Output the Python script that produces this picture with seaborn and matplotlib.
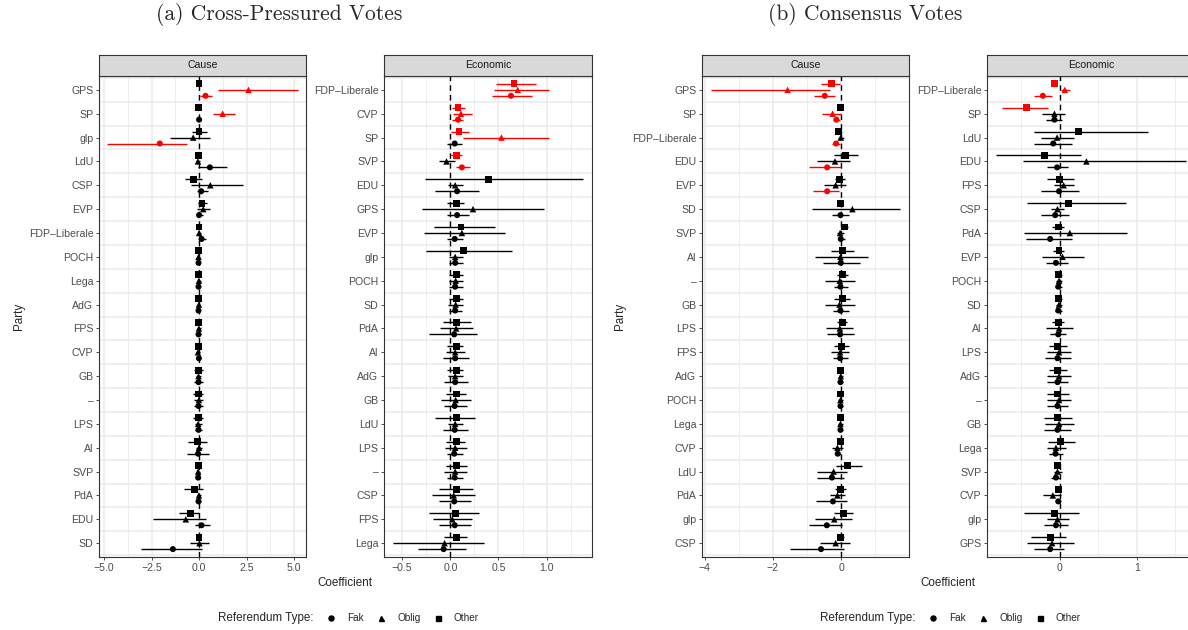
import matplotlib
matplotlib.use("Agg")
import matplotlib.pyplot as plt
from matplotlib.lines import Line2D
import seaborn as sns
import pandas as pd

# ---------------- data ----------------
TYPES = ["Fak", "Oblig", "Other"]

A_CAUSE_PARTIES = ["GPS", "SP", "glp", "LdU", "CSP", "EVP", "FDP–Liberale", "POCH", "Lega", "AdG",
                   "FPS", "CVP", "GB", "–", "LPS", "Al", "SVP", "PdA", "EDU", "SD"]
A_CAUSE_OTHER = [(0.0, -0.08, 0.08), (-0.05, -0.13, 0.05), (0.0, -0.35, 0.43), (-0.05, -0.13, 0.05),
                 (-0.31, -0.73, 0.15), (0.15, -0.06, 0.43), (0.0, -0.08, 0.08), (-0.05, -0.12, 0.04),
                 (-0.03, -0.1, 0.05), (-0.05, -0.12, 0.04), (-0.03, -0.1, 0.05), (-0.03, -0.1, 0.05),
                 (-0.03, -0.29, 0.2), (-0.03, -0.32, 0.22), (-0.05, -0.33, 0.22), (-0.1, -0.6, 0.4),
                 (-0.03, -0.1, 0.05), (-0.26, -0.78, 0.2), (-0.47, -1.08, 0.01), (0.0, -0.12, 0.1)]
A_CAUSE_OBLIG = [(2.6, 1.0, 5.2), (1.24, 0.71, 1.89), (-0.31, -1.52, 0.6), (-0.06, -0.14, 0.04),
                 (0.59, -0.43, 2.31), (0.22, -0.1, 0.6), (0.0, -0.08, 0.08), (-0.03, -0.1, 0.05),
                 (-0.01, -0.1, 0.08), (-0.01, -0.09, 0.07), (-0.01, -0.1, 0.08), (-0.06, -0.15, 0.04),
                 (-0.03, -0.15, 0.1), (-0.01, -0.28, 0.22), (-0.05, -0.2, 0.13), (0.0, -0.17, 0.15),
                 (-0.05, -0.13, 0.04), (-0.01, -0.12, 0.1), (-0.7, -2.45, 0.39), (0.02, -0.47, 0.52)]
A_CAUSE_FAK = [(0.34, 0.06, 0.7), (0.0, -0.08, 0.08), (-2.07, -4.83, -0.61), (0.57, -0.08, 1.49),
               (0.11, -0.1, 0.45), (0.0, -0.13, 0.18), (0.13, -0.03, 0.34), (-0.03, -0.1, 0.05),
               (-0.03, -0.1, 0.05), (-0.03, -0.1, 0.05), (-0.03, -0.15, 0.12), (-0.01, -0.08, 0.06),
               (-0.03, -0.25, 0.18), (-0.03, -0.25, 0.18), (-0.03, -0.22, 0.16), (-0.05, -0.66, 0.53),
               (-0.05, -0.13, 0.04), (-0.03, -0.14, 0.08), (0.13, -0.19, 0.6), (-1.38, -3.08, 0.15)]

A_ECON_PARTIES = ["FDP–Liberale", "CVP", "SP", "SVP", "EDU", "GPS", "EVP", "glp", "POCH", "SD",
                  "PdA", "Al", "AdG", "GB", "LdU", "LPS", "–", "CSP", "FPS", "Lega"]
A_ECON_OTHER = [(0.66, 0.47, 0.89), (0.08, 0.02, 0.15), (0.09, 0.01, 0.19), (0.06, 0.01, 0.12),
                (0.40, -0.26, 1.38), (0.06, -0.03, 0.14), (0.11, -0.17, 0.46), (0.14, -0.25, 0.64),
                (0.06, -0.01, 0.13), (0.06, -0.01, 0.13), (0.06, -0.08, 0.21), (0.06, -0.03, 0.13),
                (0.06, -0.03, 0.13), (0.06, -0.04, 0.16), (0.06, -0.16, 0.26), (0.06, -0.04, 0.15),
                (0.06, -0.05, 0.17), (0.06, -0.12, 0.24), (0.05, -0.22, 0.30), (0.06, -0.07, 0.17)]
A_ECON_OBLIG = [(0.70, 0.45, 1.02), (0.11, 0.03, 0.22), (0.53, 0.13, 1.02), (-0.04, -0.12, 0.05),
                (0.05, -0.02, 0.13), (0.235, -0.29, 0.97), (0.12, -0.27, 0.57), (0.05, -0.01, 0.13),
                (0.055, -0.01, 0.13), (0.055, -0.02, 0.13), (0.06, -0.11, 0.24), (0.05, -0.04, 0.15),
                (0.05, -0.02, 0.13), (0.055, -0.1, 0.21), (0.05, -0.02, 0.13), (0.05, -0.06, 0.17),
                (0.05, -0.07, 0.17), (0.035, -0.19, 0.26), (0.02, -0.18, 0.22), (-0.06, -0.6, 0.35)]
A_ECON_FAK = [(0.63, 0.43, 0.85), (0.08, 0.02, 0.13), (0.045, -0.03, 0.12), (0.12, 0.06, 0.2),
              (0.07, -0.16, 0.3), (0.07, -0.03, 0.19), (0.045, -0.03, 0.13), (0.05, -0.01, 0.13),
              (0.05, -0.01, 0.13), (0.05, -0.01, 0.12), (0.04, -0.22, 0.28), (0.05, -0.08, 0.19),
              (0.05, -0.07, 0.18), (0.045, -0.07, 0.17), (0.045, -0.08, 0.18), (0.04, -0.03, 0.13),
              (0.045, -0.03, 0.13), (0.04, -0.12, 0.21), (0.045, -0.12, 0.21), (-0.07, -0.34, 0.16)]

B_CAUSE_PARTIES = ["GPS", "SP", "FDP–Liberale", "EDU", "EVP", "SD", "SVP", "Al", "–", "GB",
                   "LPS", "FPS", "AdG", "POCH", "Lega", "CVP", "LdU", "PdA", "glp", "CSP"]
B_CAUSE_OTHER = [(-0.28, -0.58, -0.04), (-0.02, -0.08, 0.04), (-0.07, -0.16, 0.03), (0.13, -0.2, 0.48),
                 (-0.05, -0.17, 0.1), (-0.02, -0.08, 0.04), (0.1, -0.01, 0.2), (0.04, -0.29, 0.39),
                 (0.04, -0.11, 0.19), (0.04, -0.21, 0.27), (0.04, -0.12, 0.18), (0.01, -0.21, 0.22),
                 (-0.02, -0.08, 0.04), (-0.02, -0.08, 0.04), (-0.02, -0.08, 0.04), (-0.02, -0.08, 0.04),
                 (0.19, -0.15, 0.6), (-0.02, -0.17, 0.13), (0.08, -0.2, 0.35), (-0.02, -0.11, 0.07)]
B_CAUSE_OBLIG = [(-1.57, -3.83, -0.32), (-0.25, -0.55, -0.01), (-0.01, -0.1, 0.09), (-0.18, -0.7, 0.25),
                 (-0.16, -0.51, 0.14), (0.33, -0.84, 1.73), (-0.03, -0.13, 0.07), (-0.02, -0.78, 0.8),
                 (-0.04, -0.48, 0.42), (-0.05, -0.48, 0.4), (-0.04, -0.44, 0.36), (-0.03, -0.31, 0.24),
                 (-0.01, -0.07, 0.05), (-0.02, -0.08, 0.04), (-0.02, -0.08, 0.04), (-0.11, -0.28, 0.06),
                 (-0.22, -0.7, 0.17), (-0.11, -0.33, 0.12), (-0.2, -0.78, 0.31), (-0.16, -0.62, 0.27)]
B_CAUSE_FAK = [(-0.48, -0.81, -0.18), (-0.14, -0.23, -0.03), (-0.15, -0.28, -0.03), (-0.41, -0.94, -0.01),
               (-0.41, -0.83, -0.06), (-0.02, -0.28, 0.24), (-0.01, -0.1, 0.12), (-0.01, -0.54, 0.54),
               (-0.02, -0.22, 0.2), (-0.02, -0.25, 0.22), (-0.03, -0.42, 0.37), (-0.03, -0.25, 0.21),
               (-0.02, -0.08, 0.04), (-0.02, -0.08, 0.04), (-0.02, -0.08, 0.04), (-0.1, -0.19, 0.01),
               (-0.27, -0.71, 0.08), (-0.24, -0.75, 0.17), (-0.42, -0.95, 0.03), (-0.59, -1.5, 0.08)]

B_ECON_PARTIES = ["FDP–Liberale", "SP", "LdU", "EDU", "FPS", "CSP", "PdA", "EVP", "POCH", "SD",
                  "Al", "LPS", "AdG", "–", "GB", "Lega", "SVP", "CVP", "glp", "GPS"]
B_ECON_OTHER = [(-0.065, -0.11, -0.03), (-0.43, -0.75, -0.155), (0.24, -0.34, 1.14), (-0.2, -0.83, 0.28),
                (0.0, -0.17, 0.19), (0.11, -0.43, 0.86), (-0.02, -0.1, 0.06), (-0.01, -0.09, 0.06),
                (-0.02, -0.06, 0.03), (-0.02, -0.06, 0.03), (-0.02, -0.1, 0.06), (-0.03, -0.14, 0.09),
                (-0.03, -0.14, 0.09), (-0.03, -0.17, 0.12), (-0.03, -0.21, 0.16), (0.01, -0.15, 0.2),
                (-0.03, -0.065, 0.005), (-0.02, -0.05, 0.02), (-0.07, -0.46, 0.25), (-0.12, -0.37, 0.08)]
B_ECON_OBLIG = [(0.065, 0.02, 0.13), (-0.07, -0.23, 0.07), (-0.035, -0.25, 0.18), (0.345, -0.48, 1.63),
                (0.05, -0.08, 0.18), (-0.03, -0.11, 0.06), (0.13, -0.46, 0.875), (0.035, -0.23, 0.31),
                (-0.01, -0.05, 0.03), (-0.01, -0.05, 0.03), (-0.01, -0.185, 0.17), (-0.01, -0.16, 0.14),
                (-0.01, -0.17, 0.15), (-0.01, -0.17, 0.15), (-0.01, -0.19, 0.18), (-0.05, -0.17, 0.08),
                (-0.03, -0.08, 0.03), (-0.09, -0.22, 0.01), (-0.03, -0.17, 0.12), (-0.1, -0.43, 0.18)]
B_ECON_FAK = [(-0.22, -0.34, -0.1), (-0.07, -0.18, 0.03), (-0.085, -0.34, 0.16), (-0.035, -0.16, 0.1),
              (-0.01, -0.25, 0.25), (-0.06, -0.24, 0.12), (-0.125, -0.44, 0.16), (-0.05, -0.18, 0.1),
              (-0.02, -0.06, 0.03), (-0.02, -0.06, 0.03), (-0.02, -0.13, 0.08), (-0.03, -0.19, 0.14),
              (-0.03, -0.16, 0.1), (-0.03, -0.16, 0.1), (-0.03, -0.2, 0.14), (-0.055, -0.14, 0.04),
              (-0.05, -0.11, 0.005), (-0.02, -0.05, 0.02), (-0.05, -0.2, 0.1), (-0.125, -0.34, 0.06)]

TITLES = ["(a) Cross-Pressured Votes", "(b) Consensus Votes"]

# ---------------- style ----------------
sns.set_style("white")
plt.rcParams["font.family"] = ["Liberation Sans", "DejaVu Sans"]

W, H = 1188, 630
fig = plt.figure(figsize=(W / 100, H / 100), dpi=100)

PLOT_TOP, PLOT_BOT = 76, 557
STRIP_H = 21
DODGE = {"Other": -0.25, "Oblig": 0.0, "Fak": 0.25}
MARKERS = {"Fak": "o", "Oblig": "^", "Other": "s"}
SIZES = {"Fak": 19, "Oblig": 22, "Other": 24}
GRID = "#ebebeb"
DARK = "#333333"


def build_df(parties, fak, oblig, other):
    rows = []
    for t, vals in zip(TYPES, [fak, oblig, other]):
        for i, (p, (e, lo, hi)) in enumerate(zip(parties, vals)):
            sig = (lo > 0) or (hi < 0)
            rows.append(dict(party=p, idx=i, y=i + DODGE[t], type=t, est=e, lo=lo, hi=hi,
                             sig="sig" if sig else "ns"))
    return pd.DataFrame(rows)


panels = [
    dict(px=(99, 306), parties=A_CAUSE_PARTIES, data=(A_CAUSE_FAK, A_CAUSE_OBLIG, A_CAUSE_OTHER),
         xlim=(-5.27, 5.63), major=[-5, -2.5, 0, 2.5, 5], labels=["−5.0", "−2.5", "0.0", "2.5", "5.0"],
         minor=[-3.75, -1.25, 1.25, 3.75], facet="Cause"),
    dict(px=(384, 592), parties=A_ECON_PARTIES, data=(A_ECON_FAK, A_ECON_OBLIG, A_ECON_OTHER),
         xlim=(-0.689, 1.471), major=[-0.5, 0, 0.5, 1.0], labels=["−0.5", "0.0", "0.5", "1.0"],
         minor=[-0.25, 0.25, 0.75, 1.25], facet="Economic"),
    dict(px=(702, 909), parties=B_CAUSE_PARTIES, data=(B_CAUSE_FAK, B_CAUSE_OBLIG, B_CAUSE_OTHER),
         xlim=(-4.08, 1.99), major=[-4, -2, 0], labels=["−4", "−2", "0"],
         minor=[-3, -1, 1], facet="Cause"),
    dict(px=(987, 1195), parties=B_ECON_PARTIES, data=(B_ECON_FAK, B_ECON_OBLIG, B_ECON_OTHER),
         xlim=(-0.944, 1.753), major=[0, 1], labels=["0", "1"],
         minor=[-0.5, 0.5, 1.5], facet="Economic"),
]

for pn in panels:
    x0, x1 = pn["px"]
    ax = fig.add_axes([x0 / W, 1 - PLOT_BOT / H, (x1 - x0) / W, (PLOT_BOT - PLOT_TOP) / H])
    df = build_df(pn["parties"], *pn["data"])
    n = len(pn["parties"])

    # grid
    for v in pn["minor"]:
        ax.axvline(v, color=GRID, lw=0.6, zorder=0)
    for v in pn["major"]:
        ax.axvline(v, color=GRID, lw=1.1, zorder=0)
    for k in range(n + 1):
        ax.axhline(k - 0.5, color=GRID, lw=1.1, zorder=0)

    ax.axvline(0, color="black", lw=1.0, ls=(0, (4, 3)), zorder=1)

    for _, r in df.iterrows():
        ax.hlines(r["y"], r["lo"], r["hi"], color="red" if r["sig"] == "sig" else "black",
                  lw=1.0, zorder=2)

    for t in TYPES:
        sub = df[df["type"] == t]
        sns.scatterplot(data=sub, x="est", y="y", hue="sig",
                        palette={"sig": "red", "ns": "black"}, marker=MARKERS[t],
                        s=SIZES[t], edgecolor="none", linewidth=0, legend=False, ax=ax, zorder=3)

    ax.set_xlim(*pn["xlim"])
    ax.set_ylim(n - 0.42, -0.58)
    ax.set_yticks(range(n))
    ax.set_yticklabels(pn["parties"])
    ax.set_xticks(pn["major"])
    ax.set_xticklabels(pn["labels"])
    ax.set_xlabel("")
    ax.set_ylabel("")
    ax.tick_params(axis="both", length=2.5, width=0.6, color=DARK, labelcolor="#4d4d4d",
                   labelsize=7.6, pad=1.5, left=True, bottom=True)
    for s in ax.spines.values():
        s.set_color(DARK)
        s.set_linewidth(0.8)

    # strip
    sax = fig.add_axes([x0 / W, 1 - PLOT_TOP / H, (x1 - x0) / W, STRIP_H / H])
    sax.set_xticks([])
    sax.set_yticks([])
    sax.set_facecolor("#d9d9d9")
    for s in sax.spines.values():
        s.set_color(DARK)
        s.set_linewidth(0.8)
    sax.text(0.5, 0.5, pn["facet"], ha="center", va="center", fontsize=7.6, color="#1a1a1a",
             transform=sax.transAxes)

# axis titles
for cx in (345, 948):
    fig.text(cx / W, 1 - 583 / H, "Coefficient", ha="center", va="center", fontsize=8.4)
for cx in (19, 620):
    fig.text(cx / W, 1 - 316 / H, "Party", ha="center", va="center", rotation=90, fontsize=8.4)

# panel titles
fig.text(279 / W, 1 - 15 / H, TITLES[0], ha="center", va="center", fontsize=15.5,
         family=["cmr10", "DejaVu Serif"])
fig.text(865 / W, 1 - 15 / H, TITLES[1], ha="center", va="center", fontsize=15.5,
         family=["cmr10", "DejaVu Serif"])

# legends (drawn as figure-level key: marker + label per referendum type)
LEG_Y = 1 - 618 / H
LEG_MARK_X = {"Fak": 331, "Oblig": 381, "Other": 438}
for off in (0, 602):
    fig.text((313 + off) / W, LEG_Y, "Referendum Type:", ha="right", va="center", fontsize=8.4)
    for t in TYPES:
        mx = (LEG_MARK_X[t] + off) / W
        fig.add_artist(Line2D([mx], [LEG_Y], transform=fig.transFigure, ls="none",
                              marker=MARKERS[t], color="black", markersize=3.6))
        fig.text((LEG_MARK_X[t] + 16 + off) / W, LEG_Y, t, ha="left", va="center", fontsize=7.2)

fig.savefig("out.png", dpi=100)
